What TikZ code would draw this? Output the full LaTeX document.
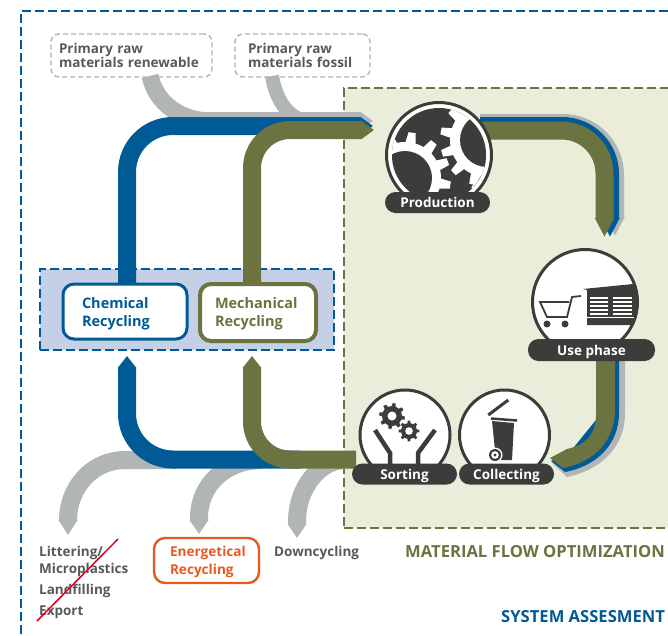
\documentclass[tikz,border=0pt]{standalone}
\usepackage{fontspec}
\setmainfont{Open Sans}
\usetikzlibrary{arrows.meta}
\definecolor{cblue}{HTML}{005A96}
\definecolor{colive}{HTML}{6B7340}
\definecolor{cgray}{HTML}{B1B5B5}
\definecolor{cdark}{HTML}{3C3C3B}
\definecolor{ctext}{HTML}{58595B}
\definecolor{cgreen}{HTML}{EAEDD9}
\definecolor{clight}{HTML}{C5CFE6}
\definecolor{corange}{HTML}{E8591F}
\definecolor{cred}{HTML}{E2001A}
\newcommand{\gearfill}[7]{%
  \fill[#7] (#1,#2) circle[radius=#3];
  \pgfmathsetmacro\gstep{360/#5}
  \pgfmathsetmacro\gwa{0.28*\gstep}
  \pgfmathsetmacro\gwb{0.15*\gstep}
  \foreach \gi in {1,...,#5}{%
    \pgfmathsetmacro\ga{#6+\gi*\gstep}
    \fill[#7,shift={(#1,#2)}] (\ga-\gwa:#3-0.5) -- (\ga-\gwb:#4) -- (\ga+\gwb:#4) -- (\ga+\gwa:#3-0.5) -- cycle;
  }}
\tikzset{
  band/.style={line width=18pt},
  bandtip/.style={band,-{Triangle[width=18pt,length=13pt]}},
  grayband/.style={bandtip,draw=cgray},
  iconring/.style={circle,draw=cdark,line width=3pt,fill=white,inner sep=0pt},
  pill/.style={rounded corners=10.5pt,fill=cdark,text=white,font=\fontsize{13.5}{15}\bfseries\selectfont,minimum height=21pt,inner sep=0pt,text height=13pt,text depth=3pt},
  recbox/.style={draw,fill=white,rounded corners=11pt,align=left,font=\fontsize{14.5}{18}\bfseries\selectfont},
  rawbox/.style={draw=cgray,dashed,line width=1.4pt,dash pattern=on 5pt off 3pt,rounded corners=8pt,text=ctext,align=left,font=\fontsize{13.5}{14.5}\bfseries\selectfont,inner sep=0pt},
  plain/.style={text=ctext,align=left,inner sep=0pt,font=\fontsize{13.5}{17}\bfseries\selectfont},
  heading/.style={inner sep=0pt,font=\fontsize{16.6}{18}\bfseries\selectfont},
  frame/.style={dash pattern=on 9pt off 4pt},
}
\begin{document}
\begin{tikzpicture}[x=1pt,y=-1pt]
\useasboundingbox (0,0) rectangle (668,635);
\fill[white] (0,0) rectangle (668,635);
% outer frame
\coordinate (fa) at (668,11);
\coordinate (fb) at (21,11);
\coordinate (fc) at (21,635);
\draw[cblue,line width=2pt,frame] (fa) -- (fb) -- (fc);
% boxes
\node[draw=cblue,fill=clight,line width=1.5pt,frame,minimum width=294pt,minimum height=81pt,inner sep=0pt] (recy) at (187,309.5) {};
\node[draw=colive,fill=cgreen,line width=1.5pt,frame,minimum width=326pt,minimum height=440pt,inner sep=0pt] (opt) at (507,308) {};
% raw material boxes
\node[rawbox,minimum width=161pt,minimum height=43pt,text width=145pt,inner xsep=8pt] (renew) at (131.5,55.5) {Primary raw\\materials renewable};
\node[rawbox,minimum width=135pt,minimum height=43pt,text width=109pt,inner xsep=13pt] (fossil) at (302.5,55.5) {Primary raw\\materials fossil};
% free ends
\coordinate (rA) at (150,76);
\coordinate (fA) at (272,76);
% gray flows
\draw[cgray,line width=17pt] (rA) .. controls (156,103) and (180,121) .. (212,121);
\draw[cgray,line width=14pt] (fA) .. controls (275,95) and (285,117) .. (306,121);
\draw[grayband] (205,121) -- (373,121);
\draw[bandtip,draw=cgray,-{Triangle[width=18pt,length=15pt]}] (176,460) -- (125,460) .. controls (92,460) and (68,488) .. (68,520) -- (68,535);
\draw[bandtip,draw=cgray,-{Triangle[width=18pt,length=14pt]}] (262,460) .. controls (225,460) and (199,485) .. (199,518) -- (199,534);
\draw[bandtip,draw=cgray,-{Triangle[width=18pt,length=14pt]}] (345,460) .. controls (320,460) and (297,487) .. (297,522) -- (297,538);
% chemical flows
\coordinate (cA) at (127,290);
\coordinate (mA) at (252,290);
\draw[bandtip,draw=cblue,rounded corners=46pt] (cA) -- (127,126) -- (373,126);
\draw[bandtip,draw=cblue,rounded corners=46pt,-{Triangle[width=18pt,length=12pt]}] (300,459.5) -- (127,459.5) -- (127,356);
% right side
\draw[bandtip,draw=cgray,rounded corners=52pt,-{Triangle[width=18pt,length=19pt]}] (480,123) -- (615,123) -- (615,236);
\draw[bandtip,draw=cblue,rounded corners=48pt,-{Triangle[width=18pt,length=19pt]}] (480,126) -- (610,126) -- (610,237);
\fill[cgray] (605,355) -- (605,415) -- (570,455) -- (552,463) -- (567,477) .. controls (600,470) and (625,448) .. (625,413) -- (625,355) -- cycle;
\fill[cblue] (600,355) -- (600,415) -- (570,452) -- (551,461) -- (565,472) .. controls (597,466) and (619,444) .. (619,413) -- (619,355) -- cycle;
% olive flows
\draw[bandtip,draw=colive,rounded corners=38pt] (mA) -- (252,130) -- (374,130);
\draw[bandtip,draw=colive,rounded corners=38pt,-{Triangle[width=18pt,length=12pt]}] (356,459.5) -- (252,459.5) -- (252,356);
\draw[bandtip,draw=colive,rounded corners=43pt,-{Triangle[width=18pt,length=19pt]}] (480,130.5) -- (604.5,130.5) -- (604.5,237);
\fill[colive] (596,355) -- (596,415) .. controls (596,435) and (585,445) .. (567,449) -- (550,458) -- (563,468) .. controls (595,462) and (615,440) .. (615,410) -- (615,355) -- cycle;
% recycling nodes
\node[recbox,draw=cblue,text=cblue,line width=3pt,minimum width=124pt,minimum height=55pt,inner xsep=19pt,text width=86pt] (chem) at (125,311.5) {\rule{0pt}{15pt}Chemical\\Recycling};
\node[recbox,draw=colive,text=colive,line width=4pt,minimum width=116pt,minimum height=57pt,inner xsep=15pt,text width=86pt] (mech) at (258,312.5) {\rule{0pt}{14pt}Mechanical\\Recycling};
% Production
\node[iconring,minimum size=105pt] (prodc) at (439,155) {};
\begin{scope}
\clip (439,155) circle[radius=47];
\fill[cdark] (439,155) circle[radius=48];
\gearfill{405}{178}{36}{46}{12}{9}{white}
\gearfill{487}{140}{37}{47}{13}{25}{white}
\fill[cdark] (405,178) circle[radius=27];
\fill[cdark] (487,140) circle[radius=27];
\draw[white,line width=1.5pt] (472,188) -- (480,175);
\end{scope}
\node[pill,minimum width=105pt] (prod) at (437.5,202.5) {Production};
% Use phase
\node[iconring,minimum size=105pt] (usec) at (585,302) {};
\begin{scope}
\clip (585,302) circle[radius=52];
\draw[cdark,line width=1.8pt] (581,296) -- (572,297) -- (567,317) -- (547,317) -- (540,302) -- (569,302);
\fill[cdark] (547,324) circle[radius=3.5] (565,324) circle[radius=3.5];
\fill[cdark] (583,289) -- (633,284) -- (636,290) -- (636,325) -- (587,325) -- (587,290) -- cycle;
\foreach \sy in {297,301,305,309,313}{
  \fill[white] (590,\sy) rectangle (608,\sy+2.4);
  \fill[white] (613,\sy) rectangle (632,\sy+2.4);
}
\fill[white] (587,317) rectangle (634,318);
\end{scope}
\node[pill,minimum width=127pt,minimum height=22pt] (use) at (591.5,350) {Use phase};
% Sorting
\node[iconring,minimum size=90pt] (sortc) at (405,435) {};
\gearfill{392}{416}{10}{13}{8}{10}{cdark}
\fill[white] (392,416) circle[radius=4.5];
\gearfill{409}{431}{8}{10.5}{8}{0}{cdark}
\fill[white] (409,431) circle[radius=3.8];
\draw[cdark,line width=4.5pt] (375,430) -- (390,453) -- (390,466);
\draw[cdark,line width=4.5pt] (435,430) -- (418,453) -- (418,466);
\node[pill,minimum width=105pt] (sort) at (404.5,474) {Sorting};
% Collecting
\node[iconring,minimum size=90pt] (collc) at (504.5,435) {};
\draw[cdark,line width=3pt] (488.3,415) -- (508.3,400);
\draw[cdark,line width=2.5pt] (491,418.5) -- (517,420.5);
\fill[cdark] (492,421) -- (514,423) -- (512,460) -- (496,460) -- cycle;
\fill[white] (495,455) circle[radius=7.5];
\fill[cdark] (495,455) circle[radius=6];
\fill[white] (495,455) circle[radius=3.8];
\fill[cdark] (495,455) circle[radius=1.6];
\node[pill,minimum width=95pt] (coll) at (506.5,474) {Collecting};
% bottom labels
\node[plain,anchor=north west] (litter) at (39,546) {Littering/\\Microplastics\\[4pt]Landfilling\\[4pt]Export};
\coordinate (xa) at (118,539);
\coordinate (xb) at (37,621);
\draw[cred,line width=1.5pt] (xa) -- (xb);
\node[recbox,draw=corange,text=corange,line width=2.4pt,minimum width=105pt,minimum height=45pt,inner xsep=16pt,text width=73pt,font=\fontsize{13.6}{18}\bfseries\selectfont] (ener) at (206.5,560.5) {\rule{0pt}{14pt}Energetical\\Recycling};
\node[plain,anchor=west] (down) at (274,553) {Downcycling};
\node[heading,text=colive,anchor=west] (mfo) at (405,552) {MATERIAL FLOW OPTIMIZATION};
\node[heading,text=cblue,anchor=west] (sys) at (501,617) {SYSTEM ASSESMENT};
\end{tikzpicture}
\end{document}
